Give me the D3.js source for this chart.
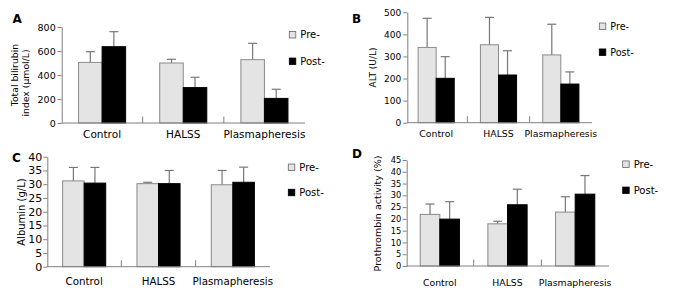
<!DOCTYPE html>
<html>
<head>
<meta charset="utf-8">
<script src="https://cdn.jsdelivr.net/npm/d3@7/dist/d3.min.js"></script>
<style>
  body { margin: 0; background: #fff; }
  svg { display: block; font-family: "DejaVu Sans", Verdana, sans-serif; }
</style>
</head>
<body>
<div id="chart"></div>
<script>
// categories and series
const categories = ["Control", "HALSS", "Plasmapheresis"];
const seriesNames = ["Pre-", "Post-"];

// A: total bilirubin (umol/L), mean and upper SD
const bilirubinPre = [505, 500, 528];
const bilirubinPreSD = [89, 31, 136];
const bilirubinPost = [636, 295, 205];
const bilirubinPostSD = [125, 86, 76];
const bilirubinTicks = [0, 200, 400, 600, 800];

// B: ALT (U/L)
const altPre = [341, 353, 307];
const altPreSD = [132, 124, 139];
const altPost = [201, 216, 175];
const altPostSD = [98, 110, 55];
const altTicks = [0, 100, 200, 300, 400, 500];

// C: albumin (g/L)
const albuminPre = [31.2, 30.2, 29.8];
const albuminPreSD = [4.9, 0.5, 5.2];
const albuminPost = [30.4, 30.2, 30.7];
const albuminPostSD = [5.7, 4.8, 5.5];
const albuminTicks = [0, 5, 10, 15, 20, 25, 30, 35, 40];

// D: prothrombin activity (%)
const prothrombinPre = [21.9, 17.9, 22.9];
const prothrombinPreSD = [4.4, 1.1, 6.5];
const prothrombinPost = [19.9, 26.0, 30.5];
const prothrombinPostSD = [7.4, 6.6, 7.9];
const prothrombinTicks = [0, 5, 10, 15, 20, 25, 30, 35, 40, 45];

const W = 678, H = 299;
const axisColor = "#808080";
const preFill = "#e4e4e4";
const postFill = "#000";
const textColor = "#000";

// layout of each panel (pixel positions)
const panels = [
    {
        label: "A", labelX: 12.5, labelY: 22.7,
        pre: bilirubinPre, preSD: bilirubinPreSD, post: bilirubinPost, postSD: bilirubinPostSD,
        ticks: bilirubinTicks,
        axisX: 61.7, bandX0: 61.5, bandX1: 305, yBottom: 123, yTop: 27,
        tickFont: 9.5, tickPad: 2,
        xFont: 10.5, xLabelY: 138,
        title: [{ text: "Total bilirubin", x: 18, y: 75 }, { text: "index (\u03bcmol/L)", x: 28.5, y: 83 }],
        titleFont: 9.3,
        legendX: 289.3, legendY: [34.7, 61.3], legendFont: 10
    },
    {
        label: "B", labelX: 352, labelY: 22.7,
        pre: altPre, preSD: altPreSD, post: altPost, postSD: altPostSD,
        ticks: altTicks,
        axisX: 407.3, bandX0: 405, bandX1: 592, yBottom: 122.7, yTop: 12.3,
        tickFont: 9, tickPad: 2,
        xFont: 9.3, xLabelY: 136.5,
        title: [{ text: "ALT (U/L)", x: 376, y: 67.5 }],
        titleFont: 9,
        legendX: 599.3, legendY: [26.3, 52.2], legendFont: 9.6
    },
    {
        label: "C", labelX: 12, labelY: 162,
        pre: albuminPre, preSD: albuminPreSD, post: albuminPost, postSD: albuminPostSD,
        ticks: albuminTicks,
        axisX: 47.3, bandX0: 47, bandX1: 270, yBottom: 266.7, yTop: 156.7,
        tickFont: 11, tickPad: 1,
        xFont: 10.3, xLabelY: 285,
        title: [{ text: "Albumin (g/L)", x: 25, y: 212 }],
        titleFont: 10,
        legendX: 288.3, legendY: [167.3, 192.5], legendFont: 10
    },
    {
        label: "D", labelX: 352, labelY: 158.3,
        pre: prothrombinPre, preSD: prothrombinPreSD, post: prothrombinPost, postSD: prothrombinPostSD,
        ticks: prothrombinTicks,
        axisX: 406.7, bandX0: 406, bandX1: 609, yBottom: 266, yTop: 160,
        tickFont: 8.3, tickPad: 1.5,
        xFont: 9.3, xLabelY: 286,
        title: [{ text: "Prothrombin activity (%)", x: 381, y: 213.5 }],
        titleFont: 9.5,
        legendX: 622.7, legendY: [164.2, 190.3], legendFont: 10
    }
];

const svg = d3.select("#chart").append("svg")
    .attr("width", W)
    .attr("height", H);

panels.forEach(p => drawPanel(p));

function drawPanel(p) {
    const g = svg.append("g");

    const x = d3.scaleBand()
        .domain(categories)
        .range([p.bandX0, p.bandX1]);

    const groupW = x.bandwidth() * 0.58;
    const x1 = d3.scaleBand()
        .domain(seriesNames)
        .range([(x.bandwidth() - groupW) / 2, (x.bandwidth() + groupW) / 2]);

    const y = d3.scaleLinear()
        .domain([0, d3.max(p.ticks)])
        .range([p.yBottom, p.yTop]);

    // rows: one per bar
    const rows = [];
    categories.forEach((c, i) => {
        rows.push({ cat: c, series: "Pre-", value: p.pre[i], sd: p.preSD[i] });
        rows.push({ cat: c, series: "Post-", value: p.post[i], sd: p.postSD[i] });
    });

    // error bars (upper only), drawn under the bars
    const capW = 9;
    const err = g.append("g")
        .attr("stroke", "#777")
        .attr("stroke-width", 1.2);
    rows.forEach(d => {
        const cx = x(d.cat) + x1(d.series) + x1.bandwidth() / 2;
        err.append("line")
            .attr("x1", cx).attr("x2", cx)
            .attr("y1", y(d.value)).attr("y2", y(d.value + d.sd));
        err.append("line")
            .attr("x1", cx - capW / 2).attr("x2", cx + capW / 2)
            .attr("y1", y(d.value + d.sd)).attr("y2", y(d.value + d.sd));
    });

    // bars
    g.selectAll(".bar")
        .data(rows)
        .enter()
        .append("rect")
        .attr("class", "bar")
        .attr("x", d => x(d.cat) + x1(d.series))
        .attr("y", d => y(d.value))
        .attr("width", x1.bandwidth())
        .attr("height", d => y(0) - y(d.value))
        .attr("fill", d => d.series === "Pre-" ? preFill : postFill)
        .attr("stroke", d => d.series === "Pre-" ? "#8a8a8a" : "#000")
        .attr("stroke-width", 1);

    // y axis
    const yAxis = g.append("g")
        .attr("transform", `translate(${p.axisX},0)`)
        .call(d3.axisLeft(y)
            .tickValues(p.ticks)
            .tickSize(4)
            .tickSizeOuter(0)
            .tickPadding(p.tickPad));
    yAxis.select(".domain").attr("stroke", axisColor);
    yAxis.selectAll(".tick line").attr("stroke", axisColor);
    yAxis.selectAll(".tick text")
        .attr("fill", textColor)
        .style("font-family", "'DejaVu Sans', sans-serif")
        .style("font-size", p.tickFont + "px");

    // x baseline with small upward ticks between categories
    g.append("line")
        .attr("x1", p.axisX).attr("x2", p.bandX1)
        .attr("y1", y(0)).attr("y2", y(0))
        .attr("stroke", axisColor);
    categories.slice(1).forEach(c => {
        g.append("line")
            .attr("x1", x(c)).attr("x2", x(c))
            .attr("y1", y(0)).attr("y2", y(0) - 6.5)
            .attr("stroke", axisColor);
    });

    // category labels
    g.selectAll(".xlab")
        .data(categories)
        .enter()
        .append("text")
        .attr("class", "xlab")
        .attr("x", d => x(d) + x.bandwidth() / 2)
        .attr("y", p.xLabelY)
        .attr("text-anchor", "middle")
        .attr("fill", textColor)
        .style("font-size", p.xFont + "px")
        .text(d => d);

    // y title (rotated)
    p.title.forEach(t => {
        g.append("text")
            .attr("transform", `translate(${t.x},${t.y}) rotate(-90)`)
            .attr("text-anchor", "middle")
            .attr("fill", textColor)
            .style("font-size", p.titleFont + "px")
            .text(t.text);
    });

    // panel letter
    g.append("text")
        .attr("x", p.labelX)
        .attr("y", p.labelY)
        .attr("fill", "#000")
        .style("font-size", "12px")
        .style("font-weight", "bold")
        .text(p.label);

    // legend
    const sq = 6.5;
    seriesNames.forEach((s, i) => {
        const cy = p.legendY[i];
        g.append("rect")
            .attr("x", p.legendX)
            .attr("y", cy - sq / 2)
            .attr("width", sq)
            .attr("height", sq)
            .attr("fill", s === "Pre-" ? preFill : postFill)
            .attr("stroke", s === "Pre-" ? "#666" : "#000")
            .attr("stroke-width", 0.8);
        g.append("text")
            .attr("x", p.legendX + 11)
            .attr("y", cy + p.legendFont * 0.36)
            .attr("fill", textColor)
            .style("font-size", p.legendFont + "px")
            .text(s);
    });
}
</script>
</body>
</html>
